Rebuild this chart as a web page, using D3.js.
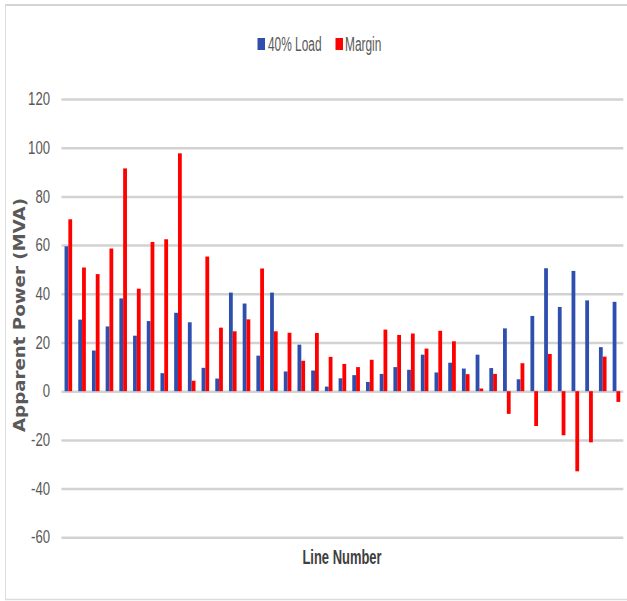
<!DOCTYPE html>
<html>
<head>
<meta charset="utf-8">
<script src="https://cdn.jsdelivr.net/npm/d3@7/dist/d3.min.js"></script>
<style>
  html, body { margin: 0; padding: 0; background: #fff; }
  svg { display: block; }
</style>
</head>
<body>
<div id="chart"></div>
<script>
// Line numbers along the category axis
const lineNumbers = [1,2,3,4,5,6,7,8,9,10,11,12,13,14,15,16,17,18,19,20,
  21,22,23,24,25,26,27,28,29,30,31,32,33,34,35,36,37,38,39,40,41];

// Apparent power at 40% load (MVA)
const load40 = [59.5,29.4,16.7,26.6,38.1,22.8,28.8,7.4,32.2,28.3,
  9.6,5.2,40.5,36,14.6,40.5,8.1,19.1,8.5,1.9,
  5.3,6.6,3.8,7.1,9.9,8.8,15,7.7,11.7,9.3,
  15,9.5,25.8,4.9,30.9,50.5,34.6,49.4,37.3,18.1,36.7];

// Remaining margin (MVA)
const margin = [70.6,50.8,48.1,58.6,91.5,42.1,61.3,62.4,97.7,4.3,
  55.3,26.1,24.6,29.5,50.4,24.6,24,12.5,23.9,14.1,
  11.2,9.9,12.9,25.3,23.1,23.7,17.5,24.8,20.5,7,
  1.1,7.1,-9.3,11.5,-14.3,15.3,-18.1,-32.9,-21,14.2,-4.4];

const yTicks = [-60,-40,-20,0,20,40,60,80,100,120];
const seriesNames = ["40% Load", "Margin"];
const seriesColors = ["#2f4fae", "#ff0000"];

const W = 627, H = 601;
const plot = { left: 61.5, right: 623.3, top: 99, bottom: 537.3 };
const narrowFont = "'Liberation Sans', Arial, sans-serif";

const svg = d3.select("#chart").append("svg")
  .attr("width", W).attr("height", H);

// chart frame
svg.append("line").attr("x1", 5).attr("x2", W).attr("y1", 5).attr("y2", 5)
  .attr("stroke", "#d4d4d4").attr("stroke-width", 2);
svg.append("line").attr("x1", 5.5).attr("x2", 5.5).attr("y1", 5).attr("y2", 600)
  .attr("stroke", "#dcdcdc").attr("stroke-width", 1);
svg.append("line").attr("x1", 5).attr("x2", W).attr("y1", 599.5).attr("y2", 599.5)
  .attr("stroke", "#dcdcdc").attr("stroke-width", 1.5);

const y = d3.scaleLinear().domain([-60, 120]).range([plot.bottom, plot.top]);
const x0 = d3.scaleBand().domain(lineNumbers)
  .range([plot.left, plot.right]).paddingInner(0.445).paddingOuter(0.2225);
const x1 = d3.scaleBand().domain(seriesNames).range([0, x0.bandwidth()]);

// gridlines
svg.append("g")
  .attr("transform", `translate(${plot.left},0)`)
  .call(d3.axisLeft(y).tickValues(yTicks).tickSize(-(plot.right - plot.left)).tickFormat(""))
  .call(g => g.select(".domain").remove())
  .call(g => g.selectAll("line").attr("stroke", "#d2d2d2").attr("stroke-width", 2.5));

// y tick labels (condensed, slightly tall)
svg.append("g")
  .attr("transform", `translate(50,0)`)
  .call(d3.axisLeft(y).tickValues(yTicks).tickSize(0).tickPadding(0)
    .tickFormat(d => String(d)))
  .call(g => g.select(".domain").remove())
  .call(g => g.selectAll("text")
    .attr("fill", "#595959")
    .style("font-family", narrowFont)
    .style("font-size", "16px")
    .attr("transform", "scale(0.82,1.1)"));

// bars
const rows = lineNumbers.map((n, i) => ({ n, values: [load40[i], margin[i]] }));
const groups = svg.append("g").selectAll("g").data(rows).join("g")
  .attr("transform", d => `translate(${x0(d.n)},0)`);
groups.selectAll("rect")
  .data(d => d.values.map((v, k) => ({ key: seriesNames[k], v, k })))
  .join("rect")
  .attr("x", d => x1(d.key))
  .attr("width", x1.bandwidth())
  .attr("y", d => y(Math.max(0, d.v)))
  .attr("height", d => Math.abs(y(d.v) - y(0)))
  .attr("fill", d => seriesColors[d.k]);

// legend
const legendItems = [
  { name: seriesNames[0], color: seriesColors[0], sx: 257.5, tx: 268 },
  { name: seriesNames[1], color: seriesColors[1], sx: 335.5, tx: 345 }
];
const lg = svg.append("g");
legendItems.forEach(it => {
  lg.append("rect").attr("x", it.sx).attr("y", 38).attr("width", 7.5).attr("height", 12)
    .attr("fill", it.color);
  lg.append("text")
    .attr("transform", `translate(${it.tx},51) scale(0.82,1.35)`)
    .attr("fill", "#595959")
    .style("font-family", narrowFont)
    .style("font-size", "14.5px")
    .text(it.name);
});

// axis titles
svg.append("text")
  .attr("transform", "translate(342,564.3) scale(0.82,1.27)")
  .attr("text-anchor", "middle")
  .attr("fill", "#404040")
  .style("font-family", narrowFont)
  .style("font-weight", "bold")
  .style("font-size", "15.8px")
  .text("Line Number");

svg.append("text")
  .attr("transform", "translate(25,315) rotate(-90)")
  .attr("text-anchor", "middle")
  .attr("textLength", 234)
  .attr("lengthAdjust", "spacingAndGlyphs")
  .attr("fill", "#595959")
  .style("font-family", "'DejaVu Sans', sans-serif")
  .style("font-weight", "bold")
  .style("font-size", "16px")
  .text("Apparent Power (MVA)");
</script>
</body>
</html>
